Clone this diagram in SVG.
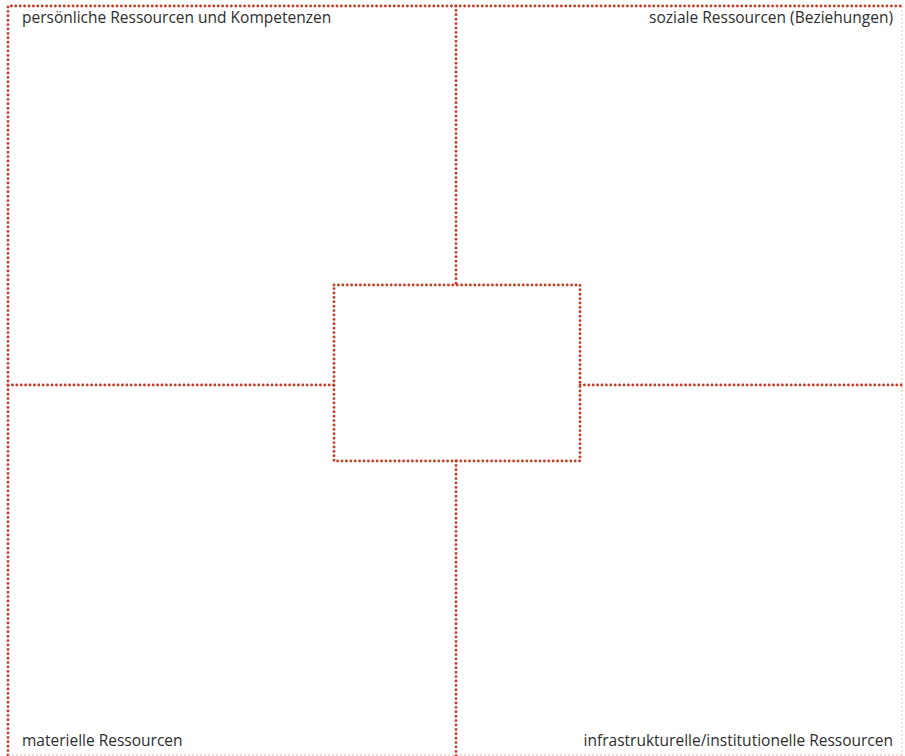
<svg xmlns="http://www.w3.org/2000/svg" width="905" height="756" viewBox="0 0 905 756">
<style>
.dot{fill:none;stroke:#c63f28;stroke-width:2.9;stroke-linecap:round;stroke-dasharray:0 4.4}
.faint{fill:none;stroke:#e9b9a8;stroke-width:1;stroke-dasharray:2 2}
.lbl{font-family:"Open Sans","Noto Sans",sans-serif;font-size:15.5px;fill:#2e2e2e}
</style>
<rect width="905" height="756" fill="#fff"/>
<g id="frame">
<path class="dot" d="M8 755 V6 H902"/>
<path class="faint" d="M902 6 V756"/>
<path class="faint" d="M8 755 H902"/>
</g>
<g id="connectors">
<path class="dot" d="M456 6 V285"/>
<path class="dot" d="M456 461 V756"/>
<path class="dot" d="M8 385 H334"/>
<path class="dot" d="M580 385 H902"/>
</g>
<g id="center">
<rect class="dot" x="334" y="285" width="246" height="176"/>
</g>
<g id="q1"><text class="lbl" x="22" y="23">persönliche Ressourcen und Kompetenzen</text></g>
<g id="q2"><text class="lbl" x="893" y="23" text-anchor="end">soziale Ressourcen (Beziehungen)</text></g>
<g id="q3"><text class="lbl" x="22" y="746">materielle Ressourcen</text></g>
<g id="q4"><text class="lbl" x="893" y="746" text-anchor="end">infrastrukturelle/institutionelle Ressourcen</text></g>
</svg>
